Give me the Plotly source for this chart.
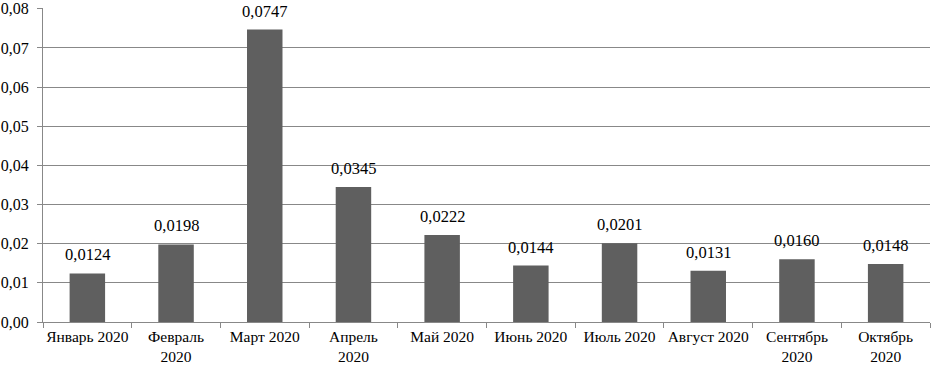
import plotly.graph_objects as go

categories = ["Январь 2020", "Февраль<br>2020", "Март 2020", "Апрель<br>2020", "Май 2020",
              "Июнь 2020", "Июль 2020", "Август 2020", "Сентябрь<br>2020", "Октябрь<br>2020"]
values = [0.0124, 0.0198, 0.0747, 0.0345, 0.0222, 0.0144, 0.0201, 0.0131, 0.0160, 0.0148]
y_ticks = [0, 0.01, 0.02, 0.03, 0.04, 0.05, 0.06, 0.07, 0.08]

font = "Liberation Serif"

fig = go.Figure(go.Bar(x=categories, y=values, marker_color="#5f5f5f", marker_line_width=0))

for c, v in zip(categories, values):
    fig.add_annotation(x=c, y=v, text=f"{v:.4f}".replace(".", ","), showarrow=False,
                       yanchor="bottom", yshift=7, font=dict(family=font, size=16.5, color="black"))

fig.update_layout(
    width=932, height=367,
    margin=dict(l=43, r=2, t=8, b=45, autoexpand=False),
    plot_bgcolor="white", paper_bgcolor="white",
    bargap=0.6, separators=",.",
    showlegend=False,
    font=dict(family=font, size=16, color="black"),
)
fig.update_xaxes(type="category", tickson="boundaries", ticks="outside", ticklen=5,
                 tickcolor="#888888", showline=True, linecolor="#888888", linewidth=1,
                 tickfont=dict(family=font, size=15.5, color="black"), tickangle=0,
                 ticklabelstandoff=0, automargin=False)
fig.update_yaxes(range=[0, 0.0802], tickvals=y_ticks, tickformat=".2f", ticks="outside", ticklen=5,
                 tickcolor="#888888", showline=True, linecolor="#888888", linewidth=1,
                 showgrid=True, gridcolor="#888888", gridwidth=1, zeroline=False,
                 tickfont=dict(family=font, size=16, color="black"), ticklabeloverflow="allow",
                 ticklabelstandoff=5, automargin=False)

fig.write_html("out.html", config={"displayModeBar": False},
               post_script="document.body.style.margin='0';document.body.style.padding='0';")
